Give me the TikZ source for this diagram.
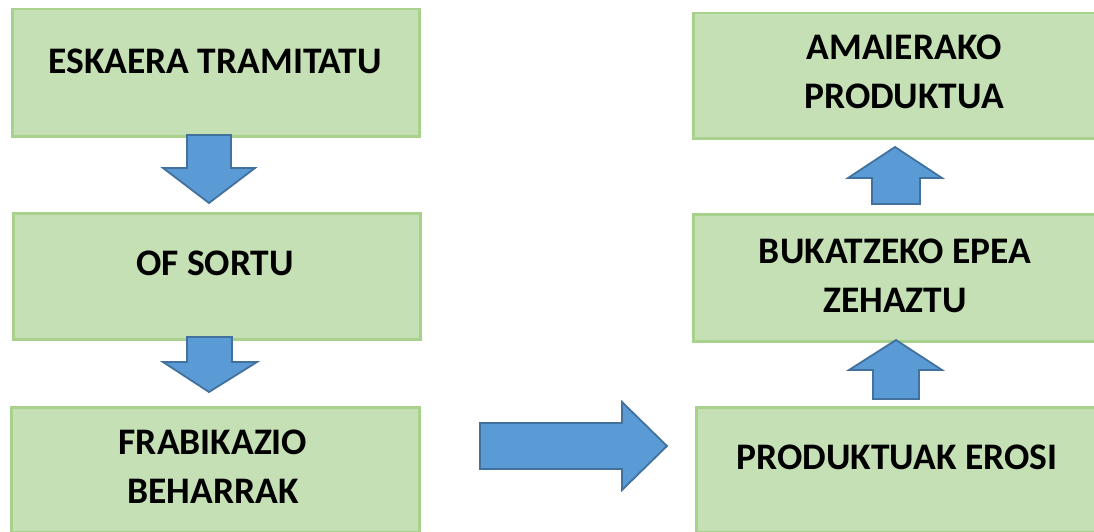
\documentclass[tikz,border=0pt]{standalone}
\usepackage{fontspec}
\setmainfont{Carlito}
\definecolor{boxfill}{HTML}{C5E0B4}
\definecolor{boxline}{HTML}{A9D18E}
\definecolor{arrowfill}{HTML}{5B9BD5}
\definecolor{arrowline}{HTML}{41719C}
\begin{document}
\begin{tikzpicture}[x=1pt,y=-1pt,
  box/.style={draw=boxline, fill=boxfill, line width=2.5pt, anchor=north west, inner sep=0pt},
  lbl/.style={font=\bfseries\fontsize{37.5}{49}\selectfont, align=center, text=black, inner sep=0pt},
  blockarrow/.style={draw=arrowline, fill=arrowfill, line width=1.8pt, line join=miter}]
\useasboundingbox (0,0) rectangle (1094,532);
\clip (0,0) rectangle (1094,532);

% left column
\node[box, minimum width=407pt, minimum height=127pt] (b1) at (11,8) {};
\node[box, minimum width=407pt, minimum height=126pt] (b2) at (12,212) {};
\node[box, minimum width=408pt, minimum height=125pt] (b3) at (10,406) {};

% right column (boxes run past the right edge)
\node[box, minimum width=422pt, minimum height=125pt] (bA) at (692,12) {};
\node[box, minimum width=406pt, minimum height=127pt] (bB) at (692,213) {};
\node[box, minimum width=404pt, minimum height=125pt] (bC) at (695,406) {};

% labels
\node[lbl] (t1) at (215,61) {ESKAERA TRAMITATU};
\node[lbl] (t2) at (215,263) {OF SORTU};
\node[lbl] (t3) at (213,467) {FRABIKAZIO\\BEHARRAK};
\node[lbl] (tA) at (904,72) {AMAIERAKO\\PRODUKTUA};
\node[lbl] (tB) at (895,276) {BUKATZEKO EPEA\\ZEHAZTU};
\node[lbl] (tC) at (897,457) {PRODUKTUAK EROSI};

% block arrows between the steps
\draw[blockarrow] (187,135) -- (231,135) -- (231,168) -- (255,168) -- (209,203)
  -- (163,168) -- (187,168) -- cycle;
\draw[blockarrow] (187,337) -- (232,337) -- (232,362) -- (257,362) -- (209,392)
  -- (163,362) -- (187,362) -- cycle;
\draw[blockarrow] (480,423) -- (622,423) -- (622,402) -- (667,446) -- (622,490)
  -- (622,469) -- (480,469) -- cycle;
\draw[blockarrow] (873,399) -- (873,370) -- (849,370) -- (896,340) -- (942,370)
  -- (919,370) -- (919,399) -- cycle;
\draw[blockarrow] (872,204) -- (872,178) -- (848,178) -- (895,147) -- (942,178)
  -- (920,178) -- (920,204) -- cycle;
\end{tikzpicture}
\end{document}
